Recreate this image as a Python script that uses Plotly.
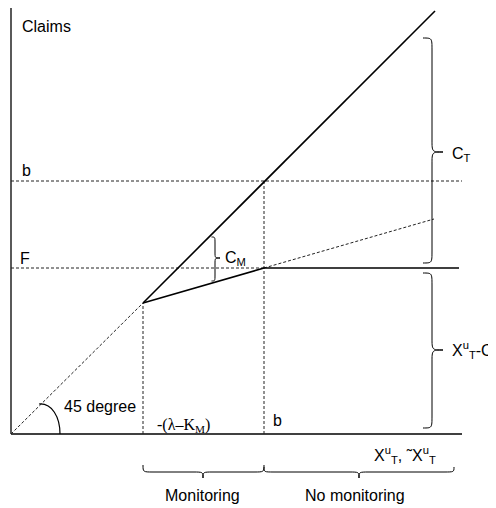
import plotly.graph_objects as go

# diagram coordinates, origin at the axis corner (1 unit ~ 1 px)
axis_x_end = 451
axis_y_end = 432
b = 253                      # b on both axes (45 degree line)
F = 166
kink = [132, 131]            # start of monitoring region, on the 45 degree line
top_45 = [424, 423]
flat_end = 448
ext_end = [423, 215]         # dashed extension of the monitoring line

arc_path = [[28, 30], [41, 31], [49, 17], [49, 0]]

# braces
v_braces = [  # x_end, x_spine, x_tip, y_top, y_bottom, y_mid, r
    [412, 421, 432, 396, 171, 282, 12],
    [412, 421, 432, 161, 6, 84, 12],
    [200.5, 204, 209, 197, 153, 176, 6],
]
h_braces = [  # y_end, y_spine, y_tip, x_left, x_right, x_mid, r
    [-31, -38, -44, 132, 253, 192, 10],
    [-33, -38, -44, 253, 443, 348, 10],
]

labels = ["Claims", "b", "F", "45 degree", "b",
          "X<sup>u</sup><sub>T</sub>, ˜X<sup>u</sup><sub>T</sub>",
          "Monitoring", "No monitoring", "C<sub>T</sub>",
          "X<sup>u</sup><sub>T</sub>-C<sub>T</sub>", "C<sub>M</sub>"]
label_x = [8.5, 8.5, 6.5, 51, 260, 361, 191.5, 343.5, 438.5, 438.5, 212]
label_y = [407.5, 264, 176, 27.5, 14, -21, -61, -61, 280, 84, 176]
label_anchor = ["left", "left", "left", "left", "left", "left",
                "center", "center", "left", "left", "left"]

lambda_label = "-(λ–K<sub>M</sub>)"
lambda_pos = [143.5, 9]

SANS = "Arial, Liberation Sans, sans-serif"
SERIF = "Times New Roman, Liberation Serif, serif"


def vbrace(xe, xs, xt, yt, yb, ym, r):
    return (f"M {xe},{yt} C {xs},{yt} {xs},{yt} {xs},{yt - r} "
            f"L {xs},{ym + r} C {xs},{ym} {xs},{ym} {xt},{ym} "
            f"C {xs},{ym} {xs},{ym} {xs},{ym - r} "
            f"L {xs},{yb + r} C {xs},{yb} {xs},{yb} {xe},{yb}")


def hbrace(ye, ys, yt, xl, xr, xm, r):
    return (f"M {xl},{ye} C {xl},{ys} {xl},{ys} {xl + r},{ys} "
            f"L {xm - r},{ys} C {xm},{ys} {xm},{ys} {xm},{yt} "
            f"C {xm},{ys} {xm},{ys} {xm + r},{ys} "
            f"L {xr - r},{ys} C {xr},{ys} {xr},{ys} {xr},{ye}")


fig = go.Figure()

solid = dict(color="black", width=1.6)
dashed = dict(color="#222", width=1, dash="3px,2px")


def seg(xs, ys, line):
    fig.add_trace(go.Scatter(x=xs, y=ys, mode="lines", line=line,
                             hoverinfo="skip", showlegend=False))


# axes
seg([0, 0], [axis_y_end, 0], dict(color="black", width=1.3))
seg([0, axis_x_end], [0, 0], dict(color="black", width=1.3))

# dashed guides
seg([0, kink[0]], [0, kink[1]], dashed)
seg([0, axis_x_end], [b, b], dashed)
seg([0, b], [F, F], dashed)
seg([kink[0], kink[0]], [0, kink[1]], dashed)
seg([b, b], [0, b], dashed)
seg([b, ext_end[0]], [F, ext_end[1]], dashed)

# solid schedules
seg([kink[0], top_45[0]], [kink[1], top_45[1]], solid)
seg([kink[0], b, flat_end], [kink[1], F, F], solid)

shapes = []
p = arc_path
shapes.append(dict(type="path", xref="x", yref="y",
                   path=f"M {p[0][0]},{p[0][1]} C {p[1][0]},{p[1][1]} "
                        f"{p[2][0]},{p[2][1]} {p[3][0]},{p[3][1]}",
                   line=dict(color="black", width=1.2)))
for vb in v_braces:
    shapes.append(dict(type="path", xref="x", yref="y", path=vbrace(*vb),
                       line=dict(color="black", width=1)))
for hb in h_braces:
    shapes.append(dict(type="path", xref="x", yref="y", path=hbrace(*hb),
                       line=dict(color="black", width=1)))

annotations = []
for t, x, y, a in zip(labels, label_x, label_y, label_anchor):
    annotations.append(dict(text=t, x=x, y=y, xref="x", yref="y",
                            xanchor=a, yanchor="middle", showarrow=False,
                            font=dict(family=SANS, size=16, color="black")))
annotations.append(dict(text=lambda_label, x=lambda_pos[0], y=lambda_pos[1],
                        xref="x", yref="y", xanchor="left", yanchor="middle",
                        showarrow=False,
                        font=dict(family=SERIF, size=16, color="black")))

# page body has an 8px margin, so the figure is 8px smaller each way
fig.update_layout(
    width=488, height=500,
    margin=dict(l=0, r=0, t=0, b=0),
    paper_bgcolor="white", plot_bgcolor="white",
    xaxis=dict(range=[-3, 485], visible=False, fixedrange=True),
    yaxis=dict(range=[-74, 426], visible=False, fixedrange=True),
    shapes=shapes, annotations=annotations,
)

fig.write_html("out.html")
